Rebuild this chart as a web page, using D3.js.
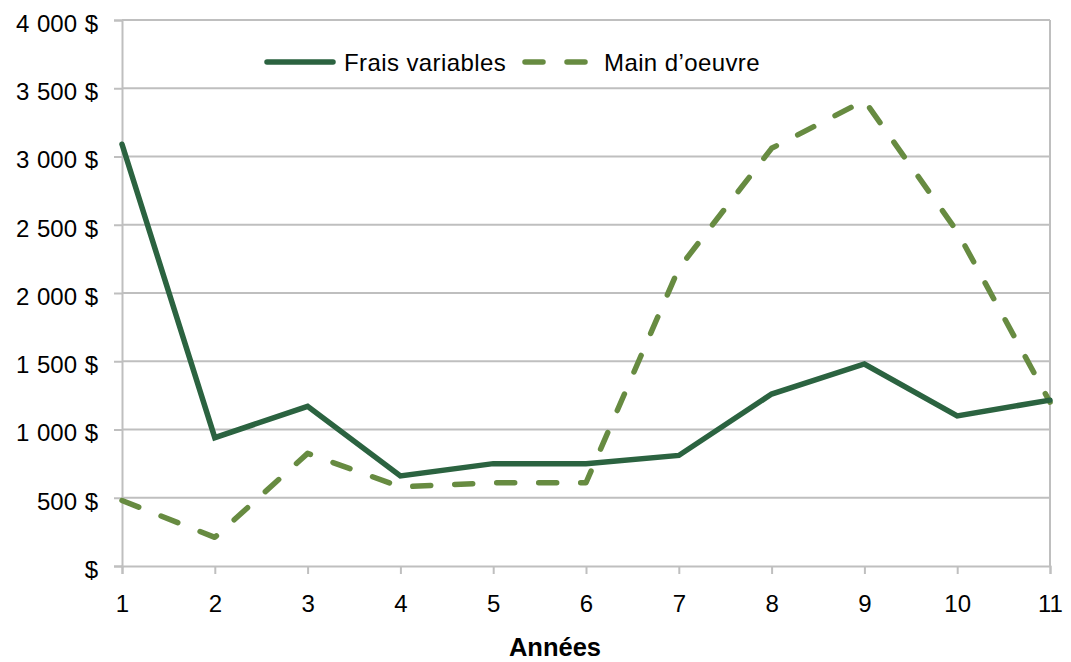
<!DOCTYPE html>
<html>
<head>
<meta charset="utf-8">
<script src="https://cdn.jsdelivr.net/npm/d3@7"></script>
<style>
  body { margin: 0; background: #fff; }
  text { font-family: "Liberation Sans", Arial, sans-serif; fill: #000; }
</style>
</head>
<body>
<svg id="chart" width="1071" height="662"></svg>
<script>
'use strict'

// data
const years = [1, 2, 3, 4, 5, 6, 7, 8, 9, 10, 11];
const fraisVariables = [3090, 940, 1170, 660, 750, 750, 810, 1260, 1480, 1100, 1215];
const mainOeuvre = [480, 210, 825, 580, 610, 610, 2180, 3060, 3410, 2450, 1200];
const yTicks = [0, 500, 1000, 1500, 2000, 2500, 3000, 3500, 4000];
const seriesNames = ['Frais variables', 'Main d\u2019oeuvre'];

const COL_SOLID = '#2b6340';
const COL_DASH = '#678b41';
const GRID = '#bfbfbf';
const DASH = '18,24';

const plotLeft = 122, plotRight = 1050, plotTop = 20, plotBottom = 566;

const svg = d3.select('#chart');

const x = d3.scaleLinear()
	.domain([1, 11])
	.range([plotLeft, plotRight]);

const y = d3.scaleLinear()
	.domain([0, 4000])
	.range([plotBottom, plotTop]);

const fmt = function(v) {
	if (v === 0) return '$';
	return d3.format(',')(v).replace(/,/g, '\u00a0') + ' $';
};

// horizontal gridlines
svg.append('g')
	.selectAll('line')
	.data(yTicks.filter(function(d) { return d > 0; }))
	.enter()
	.append('line')
	.attr('x1', plotLeft)
	.attr('x2', plotRight)
	.attr('y1', function(d) { return y(d); })
	.attr('y2', function(d) { return y(d); })
	.attr('stroke', GRID)
	.attr('stroke-width', 2);

// right border of plot area
svg.append('line')
	.attr('x1', plotRight).attr('x2', plotRight)
	.attr('y1', y(4000)).attr('y2', y(0))
	.attr('stroke', GRID)
	.attr('stroke-width', 2);

// y axis
const yAxis = svg.append('g')
	.attr('transform', 'translate(' + plotLeft + ',0)')
	.call(d3.axisLeft(y).tickValues(yTicks).tickFormat(fmt).tickSize(8).tickPadding(16));

// x axis
const xAxis = svg.append('g')
	.attr('transform', 'translate(0,' + plotBottom + ')')
	.call(d3.axisBottom(x).tickValues(years).tickFormat(d3.format('d')).tickSize(8).tickPadding(14));

[yAxis, xAxis].forEach(function(a) {
	a.select('.domain').attr('stroke', GRID).attr('stroke-width', 2);
	a.selectAll('.tick line').attr('stroke', GRID).attr('stroke-width', 2);
	a.selectAll('.tick text')
		.style('font-family', '"Liberation Sans", Arial, sans-serif')
		.style('font-size', '24px')
		.attr('fill', '#000');
});
yAxis.selectAll('.tick text').attr('dy', '0.47em').style('word-spacing', '1px');
xAxis.selectAll('.tick text').attr('dy', '1em');

// series lines
const line = d3.line()
	.x(function(d, i) { return x(years[i]); })
	.y(function(d) { return y(d); });

svg.append('path')
	.datum(mainOeuvre)
	.attr('d', line)
	.attr('fill', 'none')
	.attr('stroke', COL_DASH)
	.attr('stroke-width', 5.5)
	.attr('stroke-dasharray', DASH)
	.attr('stroke-linecap', 'round')
	.attr('stroke-linejoin', 'round');

svg.append('path')
	.datum(fraisVariables)
	.attr('d', line)
	.attr('fill', 'none')
	.attr('stroke', COL_SOLID)
	.attr('stroke-width', 5.5)
	.attr('stroke-linecap', 'round')
	.attr('stroke-linejoin', 'miter');

// legend
const legend = svg.append('g');

legend.append('line')
	.attr('x1', 267).attr('x2', 333)
	.attr('y1', 62).attr('y2', 62)
	.attr('stroke', COL_SOLID)
	.attr('stroke-width', 5.5)
	.attr('stroke-linecap', 'round');

legend.append('text')
	.attr('x', 344)
	.attr('y', 71)
	.style('font-size', '24px')
	.style('letter-spacing', '0.4px')
	.text(seriesNames[0]);

legend.append('line')
	.attr('x1', 525).attr('x2', 590)
	.attr('y1', 62).attr('y2', 62)
	.attr('stroke', COL_DASH)
	.attr('stroke-width', 5.5)
	.attr('stroke-dasharray', DASH)
	.attr('stroke-linecap', 'round');

legend.append('text')
	.attr('x', 604)
	.attr('y', 71)
	.style('font-size', '24px')
	.style('letter-spacing', '0.4px')
	.text(seriesNames[1]);

// x axis title
svg.append('text')
	.attr('x', 555)
	.attr('y', 656)
	.attr('text-anchor', 'middle')
	.style('font-size', '25.5px')
	.style('font-weight', 'bold')
	.text('Années');
</script>
</body>
</html>
